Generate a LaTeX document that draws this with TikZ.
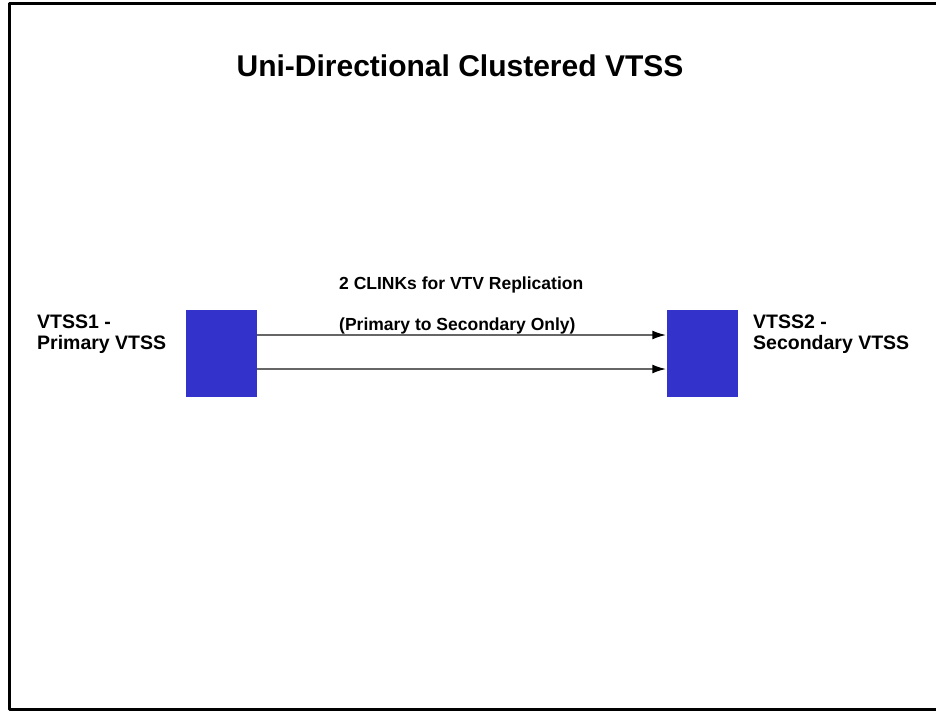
\documentclass[tikz,border=0pt]{standalone}
\usepackage{fontspec}
\setmainfont{Liberation Sans}
\usetikzlibrary{arrows.meta}

\definecolor{vtssblue}{RGB}{51,51,204}

\tikzset{
  vtssbox/.style={draw=none, fill=vtssblue, minimum width=71pt, minimum height=87pt, inner sep=0pt},
  clink/.style={draw=black!60, line width=2pt, -{Latex[length=14pt,width=9pt,black]}},
  sidelbl/.style={font=\bfseries\fontsize{19.5}{21}\selectfont, anchor=base west, inner sep=0pt},
  midlbl/.style={font=\bfseries\fontsize{17.5}{21}\selectfont, anchor=base west, inner sep=0pt}
}

\begin{document}
\begin{tikzpicture}[x=1pt, y=-1pt, line join=round]

        \useasboundingbox (0,0) rectangle (936,711);

        % Cadre (gauche, haut, bas)
        \draw[black, line width=3pt] (936,4) -- (9.5,4) -- (9.5,709.5) -- (936,709.5);

        % Titre
        \node[font=\bfseries\fontsize{30}{34}\selectfont, anchor=base, inner sep=0pt] (title) at (460,77) {Uni-Directional Clustered VTSS};

        % Les deux VTSS
        \node[vtssbox] (vtssA) at (221.5,353.5) {};
        \node[vtssbox] (vtssB) at (702,353.5) {};

        % Etiquettes
        \node[sidelbl] (nameA) at (37,328) {VTSS1 -};
        \node[sidelbl] (roleA) at (37,349) {Primary VTSS};
        \node[sidelbl] (nameB) at (753,328) {VTSS2 -};
        \node[sidelbl] (roleB) at (753,349) {Secondary VTSS};

        % CLINKs
        \node[midlbl] (clinks) at (339,289) {2 CLINKs for VTV Replication};
        \node[midlbl] (dir) at (339,330) {(Primary to Secondary Only)};

        \draw[clink] ([yshift=18.5pt]vtssA.east) -- ([yshift=18.5pt]vtssB.west);
        \draw[clink] ([yshift=-15.5pt]vtssA.east) -- ([yshift=-15.5pt]vtssB.west);

\end{tikzpicture}
\end{document}
